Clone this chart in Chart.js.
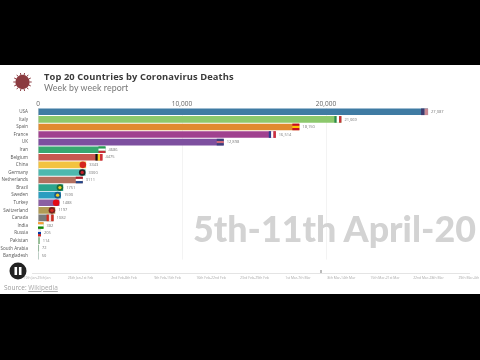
<!DOCTYPE html>
<html><head><meta charset="utf-8">
<script src="https://cdn.jsdelivr.net/npm/chart.js@4"></script>
<style>
html,body{margin:0;padding:0;background:#000;width:480px;height:360px;overflow:hidden}
#band{position:absolute;left:0;top:65px;width:480px;height:229px;background:#fff}
#wrap{position:absolute;left:0;top:0;width:480px;height:360px;filter:blur(.25px)}
.t{position:absolute;white-space:nowrap;font-family:"Open Sans",sans-serif}
#title{left:44px;top:70px;font-size:9.35px;font-weight:700;color:#3a3a3a;letter-spacing:.01em}
#sub{left:44px;top:82px;font-size:8.8px;color:#777;font-family:Lato,sans-serif;letter-spacing:.01em}
#date{left:193px;top:207px;font-size:35.8px;font-weight:900;color:#d3d3d3;font-family:Lato,sans-serif}
#source{left:4px;top:283px;font-size:6.5px;color:#999}
#source u{color:#aaa}
</style></head>
<body>
<div id="band"></div>
<div id="wrap"><canvas id="c" width="480" height="360"></canvas></div>
<div class="t" id="title">Top 20 Countries by Coronavirus Deaths</div>
<div class="t" id="sub">Week by week report</div>
<div class="t" id="date">5th-11th April-20</div>
<div class="t" id="source">Source: <u>Wikipedia</u></div>
<script>
const countries=["USA","Italy","Spain","France","UK","Iran","Belgium","China","Germany","Netherlands","Brazil","Sweden","Turkey","Switzerland","Canada","India","Russia","Pakistan","South Arabia","Bangladesh"];
const deaths=[27087,21069,18150,16514,12898,4686,4475,3343,3300,3111,1751,1590,1488,1197,1082,382,205,114,72,50];
const barColors=["#3f7ba3","#8cc86c","#e08a30","#a0418f","#7d4f9f","#37a870","#c8584f","#f3c340","#4eb8ae","#b4705f","#2ca58d","#2b9dc0","#8a5fa3","#b09a55","#7a7a7a","#7dbb6a","#5c3f9e","#5a9d5a","#4d8f5a","#3f8f6a"];
const flagStripes=[["v","#3c3b6e","#c98a94"],["v","#2a8a4a","#fff","#c8303a"],["h","#c60b1e","#ffc400","#c60b1e"],["v","#2a3f8f","#fff","#d0303a"],["h","#3a3f7a","#d06a7a","#3a3f7a"],["h","#2a9a50","#fff","#c8303a"],["v","#111","#f7d020","#d0303a"],["o","#d5261e"],["o","#222","#c8202a"],["h","#ae1c28","#fff","#21468b"],["o","#1e6a3a","#e8d020"],["o","#1a5a8a","#f0cc20"],["o","#e30a17"],["o","#7a2020","#d52b1e"],["v","#d52b1e","#f5d5d5","#d52b1e"],["h","#ff9933","#fff","#138808"],["h","#eee","#0039a6","#d52b1e"]];
const xTicks=[0,10000,20000];
const weekLabels=["19th Jan-25th Jan","26th Jan-1st Feb","2nd Feb-8th Feb","9th Feb-15th Feb","16th Feb-22nd Feb","23rd Feb-29th Feb","1st Mar-7th Mar","8th Mar-14th Mar","15th Mar-21st Mar","22nd Mar-28th Mar","29th Mar-4th Apr"];

const overlay={id:'overlay',
 afterDatasetsDraw(ch){
  const c=ch.ctx,m=ch.getDatasetMeta(0);
  c.save();
  m.data.forEach((b,i)=>{
   const h=b.height,top=b.y-h/2,right=b.x,left=ch.scales.x.getPixelForValue(0);
   const f=flagStripes[i];
   if(f){
    const w=Math.min(7,right-left),x0=right-w,n=f.length-1;
    if(f[0]==='o'){
     c.fillStyle=f[1];c.beginPath();c.arc(right-h/2,b.y,h/2,0,Math.PI*2);c.fill();
     if(f[2]){c.fillStyle=f[2];c.beginPath();c.arc(right-h/2,b.y,h/4,0,Math.PI*2);c.fill();}
    } else for(let k=0;k<n;k++){
     c.fillStyle=f[k+1];
     if(f[0]==='v')c.fillRect(x0+k*w/n,top,w/n,h);
     else c.fillRect(x0,top+k*h/n,w,h/n);
    }
   }
   c.fillStyle='#777';c.font='4px "Open Sans",sans-serif';c.textAlign='left';c.textBaseline='middle';
   const v=deaths[i];
   c.fillText(v>=10000?v.toLocaleString('en-US'):String(v),right+3,b.y);
  });
  c.strokeStyle='#e4e4e4';c.lineWidth=1;
  c.beginPath();c.moveTo(32,273.5);c.lineTo(470,273.5);c.stroke();
  c.fillStyle='#aaa';c.font='3.4px "Open Sans",sans-serif';c.textAlign='center';
  weekLabels.forEach((s,i)=>c.fillText(s,37+i*43.5,278));
  c.fillStyle='#bbb';c.fillRect(320,270,2,3);
  c.fillStyle='#222';c.beginPath();c.arc(18,271,8.5,0,Math.PI*2);c.fill();
  c.fillStyle='#fff';c.fillRect(14.5,267,2.6,8);c.fillRect(18.9,267,2.6,8);
  c.fillStyle='#8b3b40';c.strokeStyle='#8b3b40';c.lineWidth=1;
  c.beginPath();c.arc(22.5,82,7.2,0,Math.PI*2);c.fill();
  for(let k=0;k<14;k++){const a=k*Math.PI/7;c.beginPath();c.moveTo(22.5+7*Math.cos(a),82+7*Math.sin(a));c.lineTo(22.5+9.2*Math.cos(a),82+9.2*Math.sin(a));c.stroke();}
  c.restore();
 }};

new Chart(document.getElementById('c'),{
 type:'bar',
 data:{labels:countries,datasets:[{data:deaths,backgroundColor:barColors,borderWidth:0,barPercentage:.87,categoryPercentage:1}]},
 options:{indexAxis:'y',responsive:false,animation:false,
  layout:{padding:{top:100,right:10,bottom:100.4,left:0}},
  plugins:{legend:{display:false},tooltip:{enabled:false},title:{display:false}},
  scales:{
   x:{position:'top',min:0,max:30000,
      afterFit(s){s.height=8;},
      afterBuildTicks(s){s.ticks=xTicks.map(v=>({value:v}));},
      grid:{color:'#f3f3f3',drawTicks:false},border:{display:false},
      ticks:{color:'#666',font:{size:6.5,family:'"Open Sans",sans-serif'},padding:0,maxRotation:0,callback:v=>v.toLocaleString('en-US')}},
   y:{afterFit(s){s.width=38;},grid:{display:false},border:{display:true,color:'#ccc',width:0.5},
      ticks:{color:'#555',font:{size:4.6,family:'"Open Sans",sans-serif'},padding:2,autoSkip:false}}
  }},
 plugins:[overlay]
});
</script>
</body></html>
